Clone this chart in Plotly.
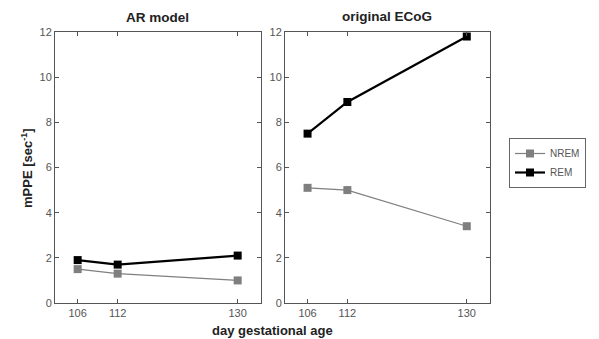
import plotly.graph_objects as go

days = [106, 112, 130]
ar_nrem = [1.5, 1.3, 1.0]
ar_rem = [1.9, 1.7, 2.1]
ecog_nrem = [5.1, 5.0, 3.4]
ecog_rem = [7.5, 8.9, 11.8]
y_ticks = [0, 2, 4, 6, 8, 10, 12]
x_ticks = [106, 112, 130]

# page body has an 8px default margin; size the figure to fill the rest of the window
OFF = 8
W, H = 599 - OFF, 339 - OFF
FONT = "Liberation Sans, Arial, sans-serif"
GRAY = "#7f7f7f"

fig = go.Figure()

def add(x, y, xa, ya, name, color, width, show):
    fig.add_trace(go.Scatter(
        x=x, y=y, xaxis=xa, yaxis=ya, name=name, mode="lines+markers",
        line=dict(color=color, width=width),
        marker=dict(symbol="square", size=8, color=color, line=dict(width=0)),
        showlegend=show))

add(days, ar_nrem, "x", "y", "NREM", GRAY, 1.2, True)
add(days, ar_rem, "x", "y", "REM", "black", 2.2, True)
add(days, ecog_nrem, "x2", "y2", "NREM", GRAY, 1.2, False)
add(days, ecog_rem, "x2", "y2", "REM", "black", 2.2, False)

def px_x(p):
    return (p - OFF) / W

def px_y(p):
    return (H - (p - OFF)) / H

axis_common = dict(
    showline=True, linecolor="#555", linewidth=1, mirror="ticks",
    ticks="inside", ticklen=4, tickcolor="#555", showgrid=False, zeroline=False,
    tickfont=dict(family=FONT, size=11, color="#555"),
)

fig.update_layout(
    width=W, height=H,
    margin=dict(l=0, r=0, t=0, b=0, autoexpand=False),
    paper_bgcolor="white", plot_bgcolor="white",
    font=dict(family=FONT, color="black"),
    xaxis=dict(domain=[px_x(55), px_x(261)], range=[102.6, 133.5],
               tickvals=x_ticks, anchor="y", **axis_common),
    yaxis=dict(domain=[px_y(303), px_y(32)], range=[0, 12],
               tickvals=y_ticks, anchor="x", **axis_common),
    xaxis2=dict(domain=[px_x(285), px_x(490)], range=[102.6, 133.5],
                tickvals=x_ticks, anchor="y2", **axis_common),
    yaxis2=dict(domain=[px_y(303), px_y(32)], range=[0, 12],
                tickvals=y_ticks, anchor="x2", **axis_common),
    legend=dict(x=px_x(509), y=px_y(163), xanchor="left", yanchor="middle",
                bordercolor="#666", borderwidth=1, bgcolor="white",
                font=dict(family=FONT, size=10, color="#555"),
                tracegroupgap=0, itemwidth=30),
    showlegend=True,
    annotations=[
        dict(text="<b>AR model</b>", x=px_x(157), y=px_y(18),
             xref="paper", yref="paper", showarrow=False,
             xanchor="center", yanchor="middle",
             font=dict(family=FONT, size=13.5, color="#222")),
        dict(text="<b>original ECoG</b>", x=px_x(387), y=px_y(17),
             xref="paper", yref="paper", showarrow=False,
             xanchor="center", yanchor="middle",
             font=dict(family=FONT, size=13.5, color="#222")),
        dict(text="<b>mPPE [sec<sup>-1</sup>]</b>", x=px_x(27), y=px_y(168),
             xref="paper", yref="paper", showarrow=False, textangle=-90,
             xanchor="center", yanchor="middle",
             font=dict(family=FONT, size=13, color="#222")),
        dict(text="<b>day gestational age</b>", x=px_x(272), y=px_y(330),
             xref="paper", yref="paper", showarrow=False,
             xanchor="center", yanchor="middle",
             font=dict(family=FONT, size=13, color="#222")),
    ],
)

fig.write_html("out.html")
